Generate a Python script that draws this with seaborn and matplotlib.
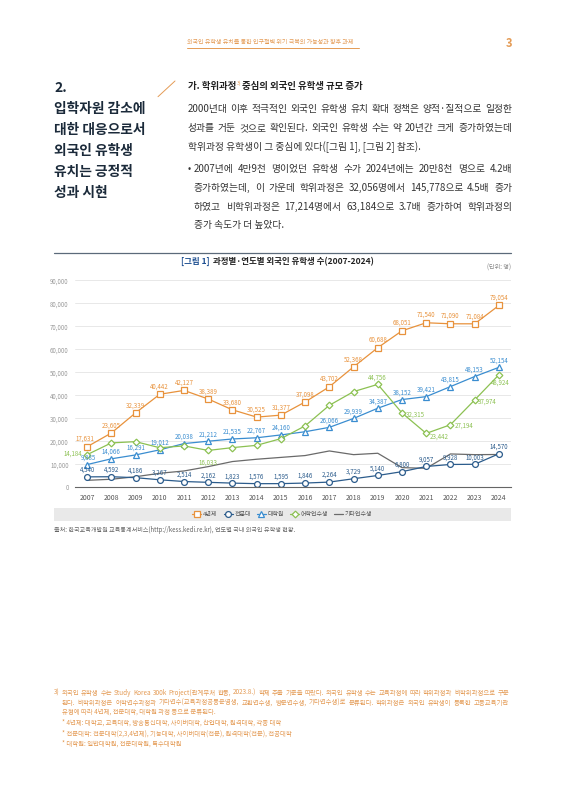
import numpy as np
import pandas as pd
import seaborn as sns
from matplotlib import pyplot as plt
from matplotlib.lines import Line2D
from matplotlib.patches import Rectangle
from matplotlib.ticker import FuncFormatter

# 연도별 과정별 외국인 유학생 수
years = list(range(2007, 2025))
univ = [17631, 23605, 32339, 40442, 42127, 38389, 33680, 30525, 31377,
        37098, 43702, 52368, 60688, 68051, 71540, 71090, 71084, 79054]
college = [4540, 4592, 4186, 3267, 2514, 2162, 1823, 1576, 1595,
           1846, 2264, 3729, 5140, 6800, 9057, 9928, 10003, 14570]
grad = [9885, 12388, 14066, 16291, 19012, 20038, 21012, 21535, 22767,
        24160, 26066, 29939, 34387, 38152, 39421, 43785, 48153, 52154]
# 원 그림에 표시된 대학원 라벨 (2008~2015는 한 칸씩 밀려 있음)
grad_labels = ["9,885", "14,066", "16,291", "19,012", "20,038", "21,212", "21,535", "22,767", "24,160",
               "", "26,066", "29,939", "34,387", "38,152", "39,421", "43,815", "48,153", "52,154"]
lang = [14184, 19300, 19850, 17200, 18000, 16033, 17250, 18250, 21150,
        26700, 35650, 41600, 44756, 32315, 23442, 27194, 37974, 48924]
lang_label_years = [2007, 2012, 2019, 2020, 2021, 2022, 2023, 2024]
other = [3030, 3500, 4600, 6100, 7100, 9000, 11200, 12200, 13000,
         13800, 15800, 14200, 14800, 8550, 8260, 14500, 14200, 14260]
series_names = ["4년제", "전문대", "대학원", "어학연수생", "기타연수생"]

ORANGE = "#E8923C"
NAVY = "#2C5C8C"
BLUE = "#3A8DD0"
GREEN = "#8CC152"
GRAY = "#6A6A6A"
NOTE = "#E49B55"

sns.set_style("white")
plt.rcParams['font.family'] = ['Noto Sans CJK KR', 'DejaVu Sans']

W, H = 566, 800
fig = plt.figure(figsize=(W / 100, H / 100), dpi=100)
page = fig.add_axes([0, 0, 1, 1])
page.set_xlim(0, W)
page.set_ylim(H, 0)
page.axis('off')
renderer = fig.canvas.get_renderer()


def put(x, y, s, size, color="#333333", weight="normal", ha="left", x1=None):
    # x1이 있으면 단어 간격을 늘려 양쪽 정렬
    if x1 is None:
        return page.text(x, y, s, fontsize=size, color=color, weight=weight, ha=ha, va="center")
    words = s.split(" ")
    objs = [page.text(0, y, w, fontsize=size, color=color, weight=weight, va="center") for w in words]
    widths = [o.get_window_extent(renderer).width for o in objs]
    gap = (x1 - x - sum(widths)) / max(len(words) - 1, 1)
    cx = x
    for o, w in zip(objs, widths):
        o.set_x(cx)
        cx += w + gap
    return objs


# 머리말
put(187, 42.3, "외국인 유학생 유치를 통한 인구절벽 위기 극복의 가능성과 향후 과제", 4.35, NOTE)
page.plot([187, 358.5], [48, 48], color=NOTE, lw=0.7)
put(509, 43.3, "3", 8, NOTE, weight="bold", ha="center")

# 왼쪽 제목
for i, s in enumerate(["2.", "입학자원 감소에", "대한 대응으로서", "외국인 유학생", "유치는 긍정적", "성과 시현"]):
    put(54, 88 + i * 21.06, s, 9.9, "#1b2a3a", weight="bold")
page.plot([158, 175], [96.7, 81], color=NOTE, lw=0.7)

# 소제목
t = put(187.7, 86, "가. 학위과정", 6.8, "#222222", weight="bold")
xe = t.get_window_extent(renderer).x1
put(xe + 0.5, 83, "3)", 3.7, NOTE)
put(xe + 6.5, 86, "중심의 외국인 유학생 규모 증가", 6.8, "#222222", weight="bold")

# 본문
PS = 7.0
put(187.7, 109, "2000년대 이후 적극적인 외국인 유학생 유치 확대 정책은 양적·질적으로 일정한", PS, x1=512)
put(187.7, 128, "성과를 거둔 것으로 확인된다. 외국인 유학생 수는 약 20년간 크게 증가하였는데", PS, x1=512)
put(187.7, 146.7, "학위과정 유학생이 그 중심에 있다([그림 1], [그림 2] 참조).", PS)
put(187.7, 169, "•", PS)
put(194, 169, "2007년에 4만9천 명이었던 유학생 수가 2024년에는 20만8천 명으로 4.2배", PS, x1=512)
put(194, 187.7, "증가하였는데, 이 가운데 학위과정은 32,056명에서 145,778으로 4.5배 증가", PS, x1=512)
put(194, 206.7, "하였고 비학위과정은 17,214명에서 63,184으로 3.7배 증가하여 학위과정의", PS, x1=512)
put(194, 225, "증가 속도가 더 높았다.", PS)

# 그림 제목
page.plot([54, 511], [253.3, 253.3], color="#5b6a7a", lw=0.9)
t = put(180.7, 261.7, "[그림 1]", 6.1, "#1d4f91", weight="bold")
xe = t.get_window_extent(renderer).x1
put(xe + 4, 261.7, "과정별·연도별 외국인 유학생 수(2007-2024)", 6.1, "#222222", weight="bold")
put(511, 267.3, "(단위: 명)", 4.4, "#888888", ha="right")

# 차트
ax = fig.add_axes([75 / W, 1 - 487.3 / H, (511 - 75) / W, (487.3 - 280.3) / H])
ax.patch.set_alpha(0)

sns.lineplot(x=years, y=other, ax=ax, color=GRAY, linewidth=0.9, label="기타연수생")
styles = [(univ, ORANGE, "s", 4.0, "4년제"),
          (college, NAVY, "o", 4.2, "전문대"),
          (grad, BLUE, "^", 3.8, "대학원"),
          (lang, GREEN, "D", 3.4, "어학연수생")]
for vals, c, m, ms, name in styles:
    sns.lineplot(x=years, y=vals, ax=ax, color=c, linewidth=0.9, marker=m, markersize=ms,
                 markerfacecolor="white", markeredgecolor=c, markeredgewidth=0.9, label=name)

LS = 4.4
for i, y in enumerate(years):
    ax.annotate(f"{univ[i]:,}", (y, univ[i]), xytext=(-1.5 if i == 0 else 0, 5.5), textcoords="offset points",
                ha="center", va="center", fontsize=LS, color=ORANGE)
    ax.annotate(f"{college[i]:,}", (y, college[i]), xytext=(0, 5), textcoords="offset points",
                ha="center", va="center", fontsize=LS, color=NAVY)
    if grad_labels[i]:
        ax.annotate(grad_labels[i], (y, grad[i]), xytext=(0.8 if i == 0 else 0, 5), textcoords="offset points",
                    ha="center", va="center", fontsize=LS, color=BLUE)

lang_offsets = {2007: (-3.5, 0.5, "right"), 2012: (0, -8.5, "center"), 2019: (0, 5, "center"),
                2020: (3, -1, "left"), 2021: (2.5, -2.5, "left"), 2022: (3, -0.5, "left"),
                2023: (2.5, -1.5, "left"), 2024: (1, -6, "center")}
for y in lang_label_years:
    v = lang[years.index(y)]
    dx, dy, ha = lang_offsets[y]
    ax.annotate(f"{v:,}", (y, v), xytext=(dx, dy), textcoords="offset points",
                ha=ha, va="center", fontsize=LS, color=GREEN)

ax.set_xlim(2006.5, 2024.5)
ax.set_ylim(0, 90000)
ax.set_xticks(years)
ax.set_xticklabels([str(y) for y in years])
ax.set_xticks(np.arange(2006.5, 2025, 1), minor=True)
ax.set_yticks(range(0, 90001, 10000))
ax.yaxis.set_major_formatter(FuncFormatter(lambda v, p: f"{int(v):,}"))
ax.tick_params(axis="x", which="major", length=0, pad=4.5, labelsize=5.0, labelcolor="#555555")
ax.tick_params(axis="x", which="minor", length=3.5, width=0.6, color="#666666", direction="out")
ax.tick_params(axis="y", length=2.5, width=0.6, color="#cccccc", labelsize=4.4, labelcolor="#999999", pad=2)
ax.yaxis.grid(True, color="#e4e4e4", lw=0.6)
ax.xaxis.grid(False)
ax.set_axisbelow(True)
for sp in ["left", "right", "top"]:
    ax.spines[sp].set_visible(False)
ax.spines["bottom"].set_color("#666666")
ax.spines["bottom"].set_linewidth(0.8)
ax.set_xlabel("")
ax.set_ylabel("")

# 범례
page.add_patch(Rectangle((54, 507.7), 511 - 54, 13, facecolor="#e9e9e9", edgecolor="none"))
handles = []
for vals, c, m, ms, name in styles:
    handles.append(Line2D([], [], color=c, lw=0.9, marker=m, markersize=ms, markerfacecolor="white",
                          markeredgecolor=c, markeredgewidth=0.9))
handles.append(Line2D([], [], color=GRAY, lw=0.9))
ax.legend(handles, series_names, loc="center", bbox_to_anchor=(282.5 / W, 1 - 514.2 / H),
          bbox_transform=fig.transFigure, ncol=5, frameon=False, fontsize=4.3, handlelength=1.5,
          handletextpad=0.3, columnspacing=1.0, labelcolor="#555555")

put(54, 530, "출처: 한국교육개발원 교육통계서비스(http://kess.kedi.re.kr), 연도별 국내 외국인 유학생 현황.", 4.4, "#666666")

# 각주
NS = 4.6
put(54, 692.7, "3) 외국인 유학생 수는 Study Korea 300k Project(관계부처 합동, 2023.8.) 학제 추출 기준을 따랐다. "
               "외국인 유학생 수는 교육과정에 따라 학위과정과 비학위과정으로 구분", NS, NOTE, x1=509)
put(61.7, 702.7, "된다. 비학위과정은 어학연수과정과 기타연수(교육과정공동운영생, 교환연수생, 방문연수생, 기타연수생)로 "
                 "분류된다. 학위과정은 외국인 유학생이 등록한 고등교육기관", NS, NOTE, x1=509)
put(61.7, 712, "유형에 따라 4년제, 전문대학, 대학원 과정 등으로 분류된다.", NS, NOTE)
put(61.7, 722.7, "* 4년제: 대학교, 교육대학, 방송통신대학, 사이버대학, 산업대학, 원격대학, 각종 대학", NS, NOTE)
put(61.7, 733.3, "* 전문대학: 전문대학(2,3,4년제), 기능대학, 사이버대학(전문), 원격대학(전문), 전공대학", NS, NOTE)
put(61.7, 744, "* 대학원: 일반대학원, 전문대학원, 특수대학원", NS, NOTE)

fig.savefig("out.png", dpi=100)
